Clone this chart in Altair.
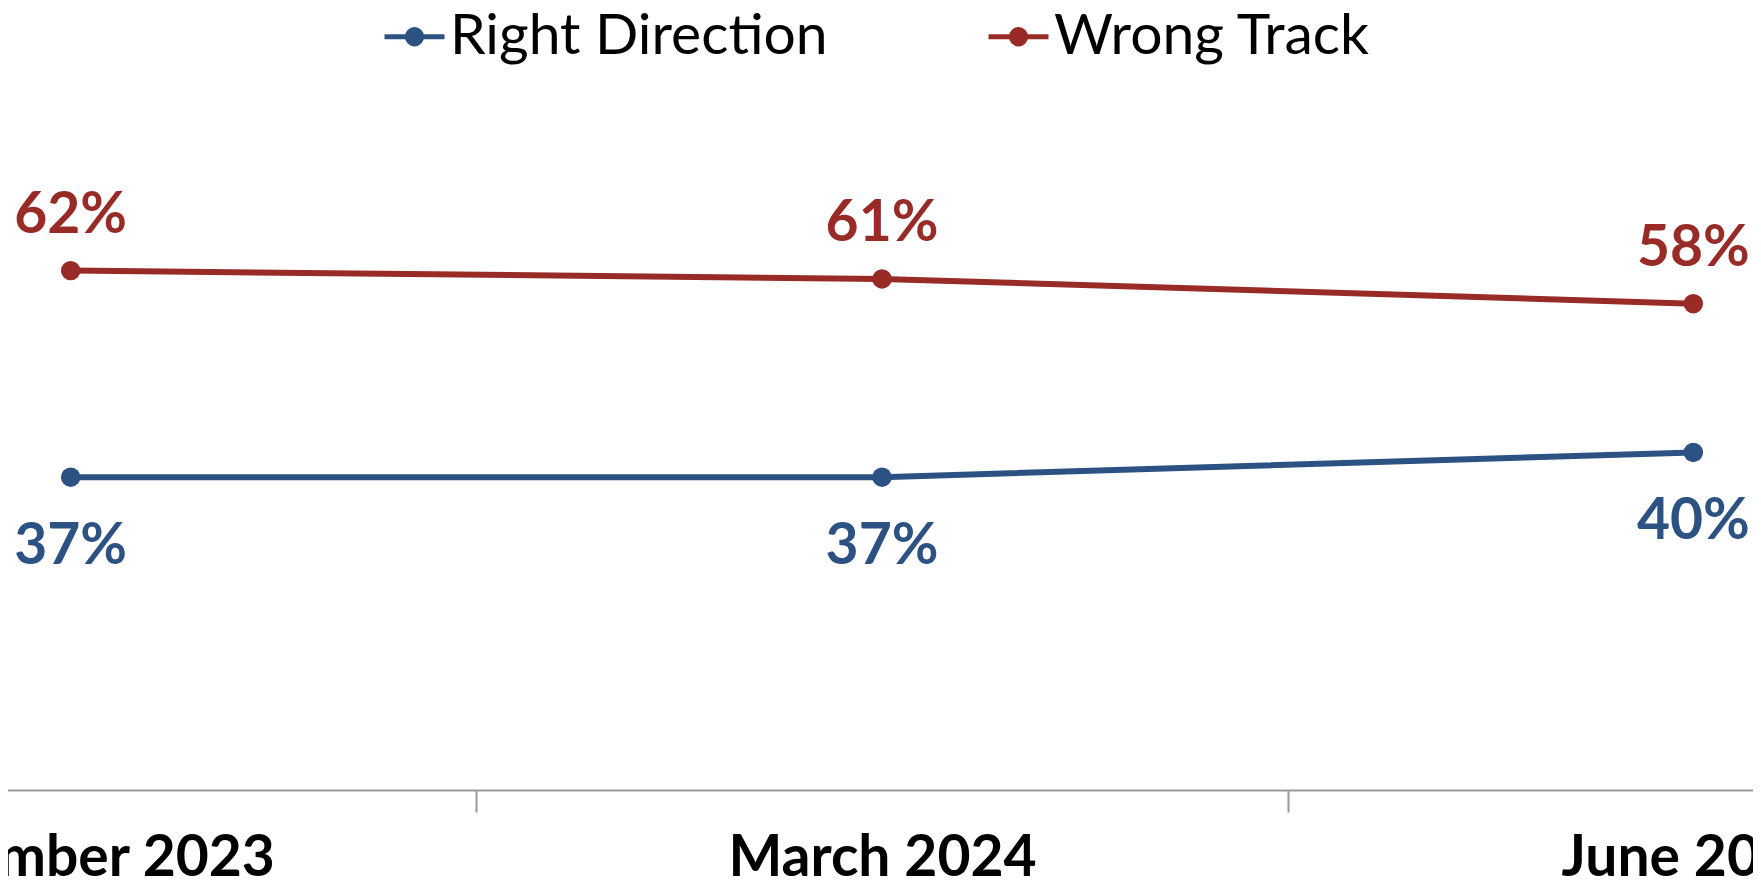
import altair as alt
import pandas as pd

periods = ["December 2023", "March 2024", "June 2024"]
right_direction = [37, 37, 40]
wrong_track = [62, 61, 58]
series_names = ["Right Direction", "Wrong Track"]

RED = "#992B27"
BLUE = "#2B5282"

rows = []
for i, p in enumerate(periods):
    rows.append({"period": p, "series": series_names[0], "value": right_direction[i]})
    rows.append({"period": p, "series": series_names[1], "value": wrong_track[i]})
df = pd.DataFrame(rows)

PLOT_W = 1745
PLOT_H = 782

x_enc = alt.X(
    "period:N",
    sort=periods,
    scale=alt.Scale(type="band", range=[-343, 2091], paddingInner=0, paddingOuter=0),
    axis=alt.Axis(
        title=None,
        labelAngle=0,
        labelFont="Lato",
        labelFontWeight="bold",
        labelFontSize=57,
        labelColor="#000000",
        labelPadding=18,
        labelLimit=0,
        tickBand="extent",
        tickSize=22,
        tickColor="#999999",
        tickWidth=2,
        domainColor="#999999",
        domainWidth=2,
        labelOverlap=False,
        grid=False,
    ),
)
y_enc = alt.Y(
    "value:Q",
    scale=alt.Scale(domain=[-0.85, 93.78], nice=False, zero=False),
    axis=None,
)

legend_symbol = (
    "M -1 0 L 1 0 "
    "M -0.24 0 A 0.24 0.24 0 1 1 0.24 0 A 0.24 0.24 0 1 1 -0.24 0 "
    "M -0.13 0 A 0.13 0.13 0 1 1 0.13 0 A 0.13 0.13 0 1 1 -0.13 0 "
    "M -0.03 0 A 0.03 0.03 0 1 1 0.03 0 A 0.03 0.03 0 1 1 -0.03 0"
)

color_enc = alt.Color(
    "series:N",
    scale=alt.Scale(domain=series_names, range=[BLUE, RED]),
    legend=alt.Legend(
        title=None,
        orient="none",
        direction="horizontal",
        legendX=374,
        legendY=-4,
        symbolType=legend_symbol,
        symbolSize=3600,
        symbolStrokeWidth=5,
        labelFont="Lato",
        labelFontSize=57,
        labelColor="#000000",
        labelOffset=3,
        labelLimit=0,
        columnPadding=150,
    ),
)

base = alt.Chart(df)

lines = base.mark_line(
    strokeWidth=6,
    point=alt.OverlayMarkDef(filled=True, size=380, opacity=1),
).encode(x=x_enc, y=y_enc, color=color_enc)

label_red = base.transform_filter(alt.datum.series == "Wrong Track").transform_calculate(
    label="datum.value + '%'"
).mark_text(
    font="Lato", fontWeight="bold", fontSize=57, color=RED, dy=-55, baseline="middle"
).encode(x=alt.X("period:N", sort=periods), y="value:Q", text=alt.Text("label:N"))

label_blue = base.transform_filter(alt.datum.series == "Right Direction").transform_calculate(
    label="datum.value + '%'"
).mark_text(
    font="Lato", fontWeight="bold", fontSize=57, color=BLUE, dy=70, baseline="middle"
).encode(x=alt.X("period:N", sort=periods), y="value:Q", text=alt.Text("label:N"))

chart = alt.layer(lines, label_red, label_blue).properties(
    width=PLOT_W,
    height=PLOT_H,
    autosize=alt.AutoSizeParams(type="none"),
    padding={"left": 0, "top": 0, "right": 0, "bottom": 90},
    background="white",
).configure_view(stroke=None)

chart.save("out.html", embed_options={"renderer": "svg", "actions": False})
